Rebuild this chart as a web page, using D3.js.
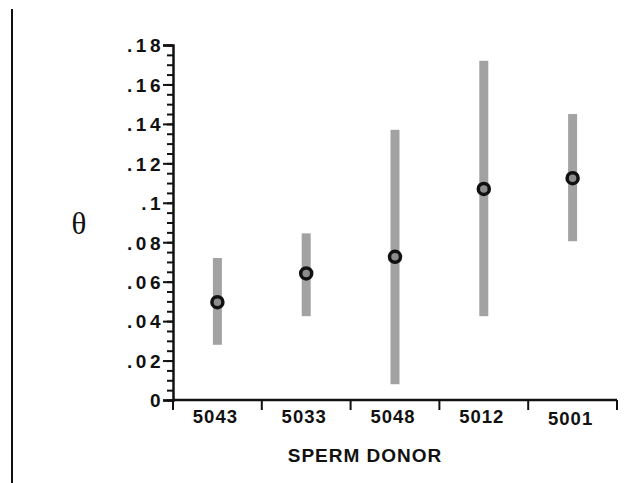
<!DOCTYPE html>
<html>
<head>
<meta charset="utf-8">
<script src="https://cdn.jsdelivr.net/npm/d3@7"></script>
<style>
  body { margin: 0; background: #fff; }
  svg text { font-family: "Liberation Sans", Arial, sans-serif; font-weight: bold; }
</style>
</head>
<body>
<div id="chart"></div>
<script>
// donors and their theta estimates with interval ends
var donors = ["5043", "5033", "5048", "5012", "5001"];
var thetaValues = [0.0496, 0.0642, 0.0726, 0.1070, 0.1125];
var lowerValues = [0.0280, 0.0425, 0.0080, 0.0425, 0.0805];
var upperValues = [0.0720, 0.0845, 0.1370, 0.1720, 0.1450];
var yTickValues = [0, 0.02, 0.04, 0.06, 0.08, 0.1, 0.12, 0.14, 0.16, 0.18];
var yTickLabels = ["0", ".02", ".04", ".06", ".08", ".1", ".12", ".14", ".16", ".18"];
var yMinorTicks = d3.range(0, 37).map(function(i) { return i * 0.005; });

var W = 642, H = 483;
var margin = {top: 45, right: 25, bottom: 83, left: 173},
    width = W - margin.left - margin.right,
    height = H - margin.top - margin.bottom;

var root = d3.select("#chart").append("svg")
  .attr("width", W)
  .attr("height", H);

// frame line on the left
root.append("line")
  .attr("x1", 12).attr("x2", 12)
  .attr("y1", 9).attr("y2", H)
  .attr("stroke", "#111").attr("stroke-width", 2);

var svg = root.append("g")
  .attr("transform", "translate(" + margin.left + "," + margin.top + ")");

var x = d3.scaleBand()
  .domain(donors)
  .range([0, width])
  .paddingInner(0).paddingOuter(0);

var y = d3.scaleLinear()
  .domain([0, 0.18])
  .range([height, 0]);

// minor ticks
svg.append("g")
  .call(d3.axisLeft(y).tickValues(yMinorTicks).tickSize(6).tickFormat(""))
  .call(function(g) { g.select(".domain").remove(); })
  .selectAll("line").attr("stroke", "#111").attr("stroke-width", 2);

// major y axis
var yAxis = svg.append("g")
  .call(d3.axisLeft(y).tickValues(yTickValues).tickSize(10).tickPadding(-1)
    .tickFormat(function(d, i) { return yTickLabels[i]; }));
yAxis.select(".domain").attr("stroke", "#111").attr("stroke-width", 2.5);
yAxis.selectAll("line").attr("stroke", "#111").attr("stroke-width", 2);
yAxis.selectAll("text")
  .attr("fill", "#111")
  .style("font-size", "19px")
  .style("letter-spacing", "3.5px")
  .attr("dy", "0.36em");

// x axis: ticks at band edges
var xAxisG = svg.append("g")
  .attr("transform", "translate(0," + height + ")");
xAxisG.append("line")
  .attr("x1", 0).attr("x2", width)
  .attr("stroke", "#111").attr("stroke-width", 2.5);
var edges = donors.map(function(d) { return x(d); }).concat([width]);
xAxisG.selectAll(".edge")
  .data(edges)
  .enter().append("line")
  .attr("class", "edge")
  .attr("x1", function(d) { return d; })
  .attr("x2", function(d) { return d; })
  .attr("y1", 0).attr("y2", 10)
  .attr("stroke", "#111").attr("stroke-width", 2);
xAxisG.selectAll(".lbl")
  .data(donors)
  .enter().append("text")
  .attr("class", "lbl")
  .attr("x", function(d) { return x(d) + x.bandwidth() / 2 - 2; })
  .attr("y", function(d, i) { return i === 4 ? 25 : 23; })
  .attr("text-anchor", "middle")
  .attr("fill", "#111")
  .style("font-size", "18.5px")
  .style("letter-spacing", "1px")
  .text(function(d) { return d; });

// axis titles
svg.append("text")
  .attr("x", 192)
  .attr("y", height + 62)
  .attr("text-anchor", "middle")
  .attr("fill", "#111")
  .style("font-size", "19px")
  .style("letter-spacing", "1px")
  .text("SPERM DONOR");

root.append("text")
  .attr("x", 79)
  .attr("y", 234)
  .attr("text-anchor", "middle")
  .attr("fill", "#111")
  .style("font-family", "'Liberation Serif', 'DejaVu Serif', serif")
  .style("font-weight", "normal")
  .style("font-size", "31px")
  .text("θ");

// interval bars
svg.selectAll(".ci")
  .data(donors)
  .enter().append("rect")
  .attr("class", "ci")
  .attr("x", function(d) { return x(d) + x.bandwidth() / 2 - 4.5; })
  .attr("width", 9)
  .attr("y", function(d, i) { return y(upperValues[i]); })
  .attr("height", function(d, i) { return y(lowerValues[i]) - y(upperValues[i]); })
  .attr("fill", "#a2a2a2");

// point estimates
svg.selectAll(".pt")
  .data(donors)
  .enter().append("circle")
  .attr("class", "pt")
  .attr("cx", function(d) { return x(d) + x.bandwidth() / 2; })
  .attr("cy", function(d, i) { return y(thetaValues[i]); })
  .attr("r", 5.5)
  .attr("fill", "#8c8c8c")
  .attr("stroke", "#111")
  .attr("stroke-width", 3.5);
</script>
</body>
</html>
